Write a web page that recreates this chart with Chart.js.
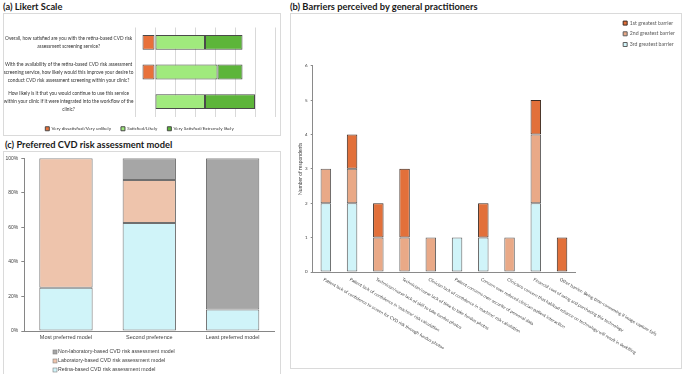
<!DOCTYPE html>
<html>
<head>
<meta charset="utf-8">
<script src="https://cdn.jsdelivr.net/npm/chart.js@4"></script>
<style>
body { margin: 0; width: 685px; height: 374px; overflow: hidden; background: #fff; position: relative; }
.ttl { position: absolute; font-family: Lato, sans-serif; font-weight: bold; font-size: 9.3px; color: #1a1a1a; white-space: nowrap; }
.box { position: absolute; border: 1px solid #dadada; box-sizing: border-box; }
.box canvas { position: absolute; left: 0; top: 0; }
</style>
</head>
<body>
<div class="ttl" style="left:3px;top:1px">(a) Likert Scale</div>
<div class="ttl" style="left:290px;top:1px">(b) Barriers perceived by general practitioners</div>
<div class="ttl" style="left:5px;top:139px">(c) Preferred CVD risk assessment model</div>

<div class="box" style="left:3px;top:13px;width:278px;height:123px"><canvas id="likert" width="276" height="127"></canvas></div>
<div class="box" style="left:290px;top:13px;width:392px;height:356px"><canvas id="barriers" width="392" height="354"></canvas></div>
<div class="box" style="left:3px;top:151px;width:278px;height:230px"><canvas id="prefs" width="276" height="224"></canvas></div>

<script>
// (a) Likert scale, % of respondents (dissatisfied shown to the left of zero)
const likertQuestions = [
  ['Overall, how satisfied are you with the retina-based CVD risk', 'assessment screening service?'],
  ['With the availability of the retina-based CVD risk assessment', 'screening service, how likely would this improve your desire to', 'conduct CVD risk assessment screening within your clinic?'],
  ['How likely is it that you would continue to use this service', 'within your clinic if it were integrated into the workflow of the', 'clinic?']
];
const veryUnlikely = [-12.5, -12.5, 0];
const likely = [50, 62.5, 50];
const extremelyLikely = [37.5, 25, 50];

// (b) barriers, number of respondents
const barriers = [
  'Patient lack of confidence to screen for CVD risk through fundus photos',
  "Patient lack of confidence in 'machine' risk calculation",
  'Technician/nurse lack of skill to take fundus photos',
  'Technician/nurse lack of time to take fundus photos',
  "Clinician lack of confidence in 'machine' risk calculation",
  'Patient concerns over security of personal data',
  'Concern over reduced clinician-patient interaction',
  'Clinicians concern that habitual reliance on technology will result in deskilling',
  'Financial cost of using and purchasing this technology',
  'Other barrier: Being time-consuming if image capture fails'
];
const firstBarrier = [0, 1, 1, 2, 0, 0, 1, 0, 1, 1];
const secondBarrier = [1, 1, 1, 1, 1, 0, 0, 1, 2, 0];
const thirdBarrier = [2, 2, 0, 0, 0, 1, 1, 0, 2, 0];

// (c) preferred model, % of respondents
const prefCategories = ['Most preferred model', 'Second preference', 'Least preferred model'];
const retinaModel = [25, 62.5, 12.5];
const labModel = [75, 25, 0];
const nonLabModel = [0, 12.5, 87.5];
const pctTicks = [0, 20, 40, 60, 80, 100];

Chart.defaults.animation = false;
Chart.defaults.plugins.tooltip.enabled = false;

// --- (a) LIKERT ---
new Chart(document.getElementById('likert'), {
  type: 'bar',
  data: {
    labels: likertQuestions,
    datasets: [
      { label: 'Very dissatisfied/Very unlikely', data: veryUnlikely, backgroundColor: '#E8713A' },
      { label: 'Satisfied/Likely', data: likely, backgroundColor: '#A0EA7D' },
      { label: 'Very Satisfied/Extremely likely', data: extremelyLikely, backgroundColor: '#5DB53A' }
    ]
  },
  options: {
    responsive: false,
    indexAxis: 'y',
    datasets: { bar: { borderColor: '#4a4a4a', borderWidth: 1, borderSkipped: false, barPercentage: 1, categoryPercentage: 0.5 } },
    layout: { padding: { top: 6, right: 5, left: 0, bottom: 0 } },
    scales: {
      x: {
        stacked: true, min: -20, max: 120,
        ticks: { display: false, stepSize: 20 },
        grid: { color: '#d9d9d9', drawTicks: false },
        border: { display: false },
        afterFit: s => { s.height = 0; }
      },
      y: {
        stacked: true,
        grid: { display: false, drawTicks: false },
        border: { display: false },
        ticks: { crossAlign: 'center', padding: 1.5, color: '#333', font: { family: 'Lato', size: 4.75, lineHeight: '8px' } },
        afterFit: s => { s.width = 131; }
      }
    },
    plugins: {
      legend: {
        position: 'bottom',
        labels: { boxWidth: 4, boxHeight: 4, padding: 10, color: '#333', font: { family: 'Lato', size: 4.5 } }
      }
    }
  }
});

// --- (b) BARRIERS ---
const slantLabels = {
  id: 'slantLabels',
  afterDraw(chart) {
    const ctx = chart.ctx;
    const x = chart.scales.x;
    ctx.save();
    ctx.font = '4.4px Lato';
    ctx.fillStyle = '#404040';
    ctx.textAlign = 'left';
    ctx.textBaseline = 'top';
    chart.data.labels.forEach((lab, i) => {
      ctx.save();
      ctx.translate(x.getPixelForValue(i) - 1, x.top + 5);
      ctx.rotate(Math.PI / 6);
      ctx.fillText(lab, 0, 0);
      ctx.restore();
    });
    ctx.restore();
  }
};

new Chart(document.getElementById('barriers'), {
  type: 'bar',
  data: {
    labels: barriers,
    datasets: [
      { label: '3rd greatest barrier', data: thirdBarrier, backgroundColor: '#D0F4F9', borderColor: '#5f5f5f' },
      { label: '2nd greatest barrier', data: secondBarrier, backgroundColor: '#E9A987', borderColor: '#5f5f5f' },
      { label: '1st greatest barrier', data: firstBarrier, backgroundColor: '#E2703A', borderColor: '#3d2b22' }
    ]
  },
  options: {
    responsive: false,
    datasets: { bar: { borderWidth: 1, borderSkipped: false, barPercentage: 1, categoryPercentage: 0.4 } },
    layout: { padding: { top: 1, right: 0, left: 0, bottom: 0 } },
    scales: {
      x: {
        stacked: true,
        ticks: { display: false },
        grid: { display: false, drawTicks: false },
        border: { color: '#8a8a8a' },
        afterFit: s => { s.height = 96; }
      },
      y: {
        stacked: true, min: 0, max: 6,
        ticks: { stepSize: 1, padding: 3, color: '#404040', font: { family: 'Lato', size: 4.5 } },
        grid: { drawOnChartArea: false, tickLength: 2, color: '#8a8a8a' },
        border: { color: '#8a8a8a' },
        title: { display: true, text: 'Number of respondents', color: '#404040', padding: { top: 6, bottom: 0 }, font: { family: 'Lato', size: 5 } },
        afterFit: s => { s.width = 21.7; }
      },
      topGap: {
        type: 'linear', position: 'top', display: true,
        ticks: { display: false }, grid: { display: false, drawTicks: false }, border: { display: false },
        afterFit: s => { s.height = 50.7; }
      },
      rightGap: {
        type: 'linear', position: 'right', display: true,
        ticks: { display: false }, grid: { display: false, drawTicks: false }, border: { display: false },
        afterFit: s => { s.width = 42.5; }
      }
    },
    plugins: {
      legend: {
        position: 'right', align: 'start', reverse: true,
        labels: { boxWidth: 4, boxHeight: 4, padding: 5.5, color: '#595959', font: { family: 'Lato', size: 5.2 } }
      }
    }
  },
  plugins: [slantLabels]
});

// --- (c) PREFERRED MODEL ---
const stackLegend = {
  id: 'stackLegend',
  afterDraw(chart) {
    const ctx = chart.ctx;
    const x0 = chart.chartArea.left + 28.7;
    const y0 = chart.chartArea.bottom + 21;
    ctx.save();
    ctx.font = '5.2px "Liberation Sans"';
    ctx.textBaseline = 'middle';
    chart.data.datasets.slice().reverse().forEach((d, k) => {
      const y = y0 + k * 9;
      ctx.fillStyle = d.backgroundColor;
      ctx.fillRect(x0, y - 2, 4, 4);
      ctx.strokeStyle = '#7f7f7f';
      ctx.lineWidth = 0.6;
      ctx.strokeRect(x0, y - 2, 4, 4);
      ctx.fillStyle = '#404040';
      ctx.fillText(d.label, x0 + 5, y);
    });
    ctx.restore();
  }
};

new Chart(document.getElementById('prefs'), {
  type: 'bar',
  data: {
    labels: prefCategories,
    datasets: [
      { label: 'Retina-based CVD risk assessment model', data: retinaModel, backgroundColor: '#D0F4F9' },
      { label: 'Laboratory-based CVD risk assessment model', data: labModel, backgroundColor: '#EEC4AC' },
      { label: 'Non-laboratory-based CVD risk assessment model', data: nonLabModel, backgroundColor: '#A6A6A6' }
    ]
  },
  options: {
    responsive: false,
    datasets: { bar: { borderColor: '#6f6f6f', borderWidth: 1, borderSkipped: false, barPercentage: 1, categoryPercentage: 0.64 } },
    layout: { padding: { top: 6.3, right: 5.7, left: 0, bottom: 0 } },
    scales: {
      x: {
        stacked: true,
        ticks: { padding: 3.5, color: '#404040', font: { family: 'Liberation Sans', size: 5.5 } },
        grid: { display: false, drawTicks: false },
        border: { color: '#868686' },
        afterFit: s => { s.height = 45; }
      },
      y: {
        stacked: true, min: 0, max: 100,
        afterBuildTicks: s => { s.ticks = pctTicks.map(v => ({ value: v })); },
        ticks: { padding: 3, color: '#404040', font: { family: 'Liberation Sans', size: 5 }, callback: v => v + '%' },
        grid: { drawOnChartArea: false, tickLength: 3, color: '#868686' },
        border: { color: '#868686' },
        afterFit: s => { s.width = 20.3; }
      }
    },
    plugins: { legend: { display: false } }
  },
  plugins: [stackLegend]
});
</script>
</body>
</html>
